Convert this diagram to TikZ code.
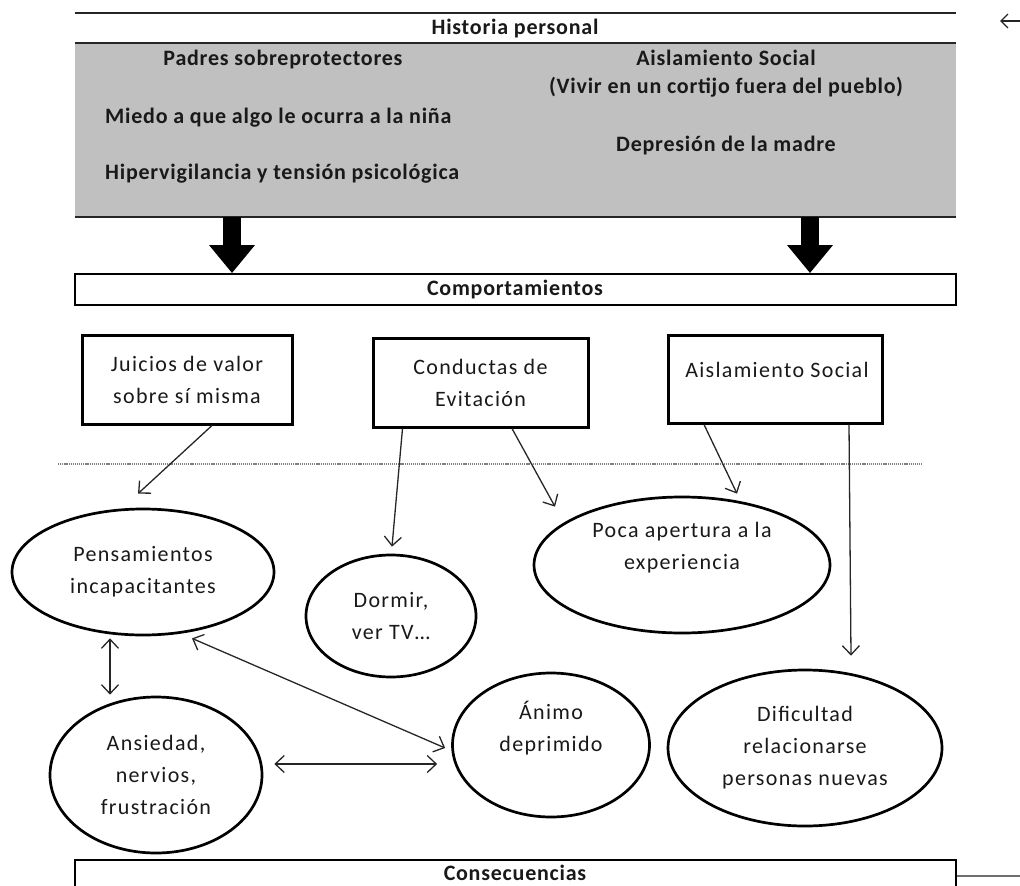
\documentclass[tikz,border=0pt]{standalone}
\usepackage{fontspec}
\setmainfont{Carlito}[LetterSpace=6]
\usetikzlibrary{arrows.meta,shapes.geometric}
\definecolor{hgray}{RGB}{192,192,192}
\definecolor{lgray}{RGB}{110,110,110}
\begin{document}
\begin{tikzpicture}[x=1pt,y=-1pt,
  txt/.style={font=\fontsize{22}{32}\selectfont, align=center, inner sep=0pt, text=black!90},
  hb/.style={txt, font=\fontsize{22}{28}\selectfont\bfseries\addfontfeature{LetterSpace=3.5}},
  band/.style={minimum width=881pt, inner sep=0pt},
  sbox/.style={txt, draw, line width=3pt, minimum width=212pt, minimum height=89pt},
  ell/.style={txt, ellipse, draw, line width=2.7pt},
  arr/.style={-{Straight Barb[length=9pt,width=17pt]}, line width=1.3pt, black!85},
  dbl/.style={{Straight Barb[length=9pt,width=17pt]}-{Straight Barb[length=9pt,width=17pt]}, line width=1.3pt, black!85},
  bigarr/.style={line width=18pt, -{Triangle[width=44pt,length=28pt]}},
  rule/.style={line width=1.8pt, black!85}
]
\useasboundingbox (0,0) rectangle (1020,886);

% Historia personal header and gray band
\node[band, minimum height=30pt] (hdr) at (515.5,28) {};
\node[band, minimum height=174pt, fill=hgray] (hbox) at (515.5,130) {};
\draw[rule] (hdr.north west) -- (hdr.north east);
\draw[rule] (hbox.north west) -- (hbox.north east);
\draw[rule] (hbox.south west) -- (hbox.south east);
\node[hb] (hp) at (515,29) {Historia personal};
\node[hb] (padres) at (283,60) {Padres sobreprotectores};
\node[hb, anchor=west] (miedo) at (105,118) {Miedo a que algo le ocurra a la niña};
\node[hb, anchor=west] (hiper) at (105,174) {Hipervigilancia y tensión psicológica};
\node[hb] (aislh) at (726,74) {Aislamiento Social\\(Vivir en un cortijo fuera del pueblo)};
\node[hb] (dep) at (726,146) {Depresión de la madre};

% top-right arrow
\coordinate (tr1) at (1020,21);
\coordinate (tr2) at (1000,21);
\draw[line width=1.3pt, black!85, -{Straight Barb[length=7pt,width=14pt]}] (tr1) -- (tr2);

% Comportamientos
\node[band, draw, line width=1.8pt, minimum height=31pt] (comp) at (515.5,289.5) {};
\node[hb] (compt) at (515,290) {Comportamientos};
\draw[bigarr] ([xshift=-283.5pt]hbox.south) -- ([xshift=-283.5pt]comp.north);
\draw[bigarr] ([xshift=294.5pt]hbox.south) -- ([xshift=294.5pt]comp.north);

% boxes
\node[sbox, minimum width=210pt] (juicios) at (187,379.5) {Juicios de valor\\sobre sí misma};
\node[sbox, minimum width=215pt] (conductas) at (480.5,382.5) {Conductas de\\Evitación};
\node[sbox, minimum width=214pt, minimum height=88pt] (aisl) at (775,379) {};
\node[txt] (aislt) at (777,370) {Aislamiento Social};

% dotted separator
\coordinate (dl1) at (58,464);
\coordinate (dl2) at (922,464);
\draw[gray, line width=1.6pt, dash pattern=on 1.2pt off 0.9pt] (dl1) -- (dl2);

% ellipses
\node[ell, minimum width=262pt, minimum height=126pt] (pens) at (143,572) {Pensamientos\\incapacitantes};
\node[ell, minimum width=170pt, minimum height=122pt] (dormir) at (391,616) {Dormir,\\ver TV…};
\node[ell, minimum width=296pt, minimum height=136pt] (poca) at (682,565) {Poca apertura a la\\experiencia\\[6pt]};
\node[ell, minimum width=212pt, minimum height=156pt] (ans) at (156,775) {Ansiedad,\\nervios,\\frustración};
\node[ell, minimum width=197pt, minimum height=144pt] (animo) at (551,745) {Ánimo\\deprimido\\[6pt]};
\node[ell, minimum width=274pt, minimum height=156pt] (dific) at (805,748) {Dificultad\\relacionarse\\personas nuevas};

% arrows from boxes
\draw[arr] ([xshift=25pt]juicios.south) -- ([xshift=-5pt,yshift=14pt]pens.north);
\draw[arr] ([xshift=-78pt]conductas.south) -- ([xshift=1pt,yshift=7pt]dormir.north);
\draw[arr] ([xshift=31.5pt]conductas.south) -- ([xshift=-127pt,yshift=-11pt]poca.north);
\draw[arr] ([xshift=-71pt]aisl.south) -- ([xshift=55pt,yshift=2pt]poca.north);
\draw[arr] ([xshift=74pt]aisl.south) -- ([xshift=46pt,yshift=13pt]dific.north);

% bidirectional arrows
\draw[dbl] ([xshift=-33pt,yshift=-2pt]pens.south) -- ([xshift=-46pt,yshift=1pt]ans.north);
\draw[dbl] ([xshift=49pt,yshift=-2pt]pens.south) -- ([xshift=-6pt,yshift=-3pt]animo.west);
\draw[dbl] ([xshift=11pt,yshift=11pt]ans.east) -- ([xshift=-14pt,yshift=-19pt]animo.west);

% Consecuencias
\node[band, draw, line width=1.8pt, minimum height=32pt] (cons) at (515.5,876) {};
\node[hb] (const) at (515,873) {Consecuencias};
\coordinate (cr) at (1020,876);
\draw[line width=1.6pt, lgray] (cons.east) -- (cr);
\end{tikzpicture}
\end{document}
